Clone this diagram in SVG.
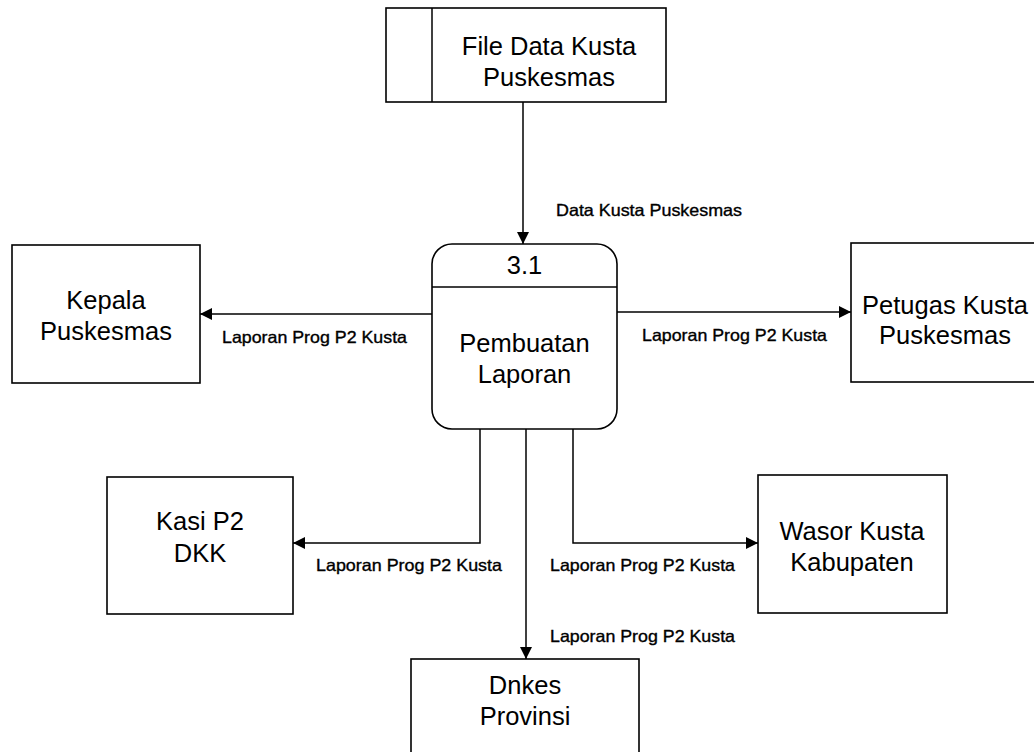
<svg xmlns="http://www.w3.org/2000/svg" width="1034" height="752" viewBox="0 0 1034 752">
  <style>
    .box { fill: #ffffff; stroke: #000000; stroke-width: 1.6; }
    .line { fill: none; stroke: #000000; stroke-width: 1.5; }
    .node { font-family: "Liberation Sans", Arial, sans-serif; font-size: 25.5px; fill: #000000; text-anchor: middle; }
    .flow { font-family: "Liberation Sans", Arial, sans-serif; font-size: 16.5px; fill: #000000; stroke: #000000; stroke-width: 0.35; }
  </style>
  <defs>
    <marker id="arrow" viewBox="0 0 12 12" refX="12" refY="6" markerWidth="12" markerHeight="12" markerUnits="userSpaceOnUse" orient="auto">
      <path d="M0,0 L12,6 L0,12 Z" fill="#000000"/>
    </marker>
  </defs>

  <rect width="1034" height="752" fill="#ffffff"/>

  <!-- data flows -->
  <g id="connectors">
    <line class="line" x1="523" y1="102" x2="523" y2="244" marker-end="url(#arrow)"/>
    <line class="line" x1="432" y1="314" x2="200" y2="314" marker-end="url(#arrow)"/>
    <line class="line" x1="617" y1="312" x2="851" y2="312" marker-end="url(#arrow)"/>
    <polyline class="line" points="480,429 480,543 293,543" marker-end="url(#arrow)"/>
    <polyline class="line" points="573,429 573,543 758,543" marker-end="url(#arrow)"/>
    <line class="line" x1="526" y1="429" x2="526" y2="659" marker-end="url(#arrow)"/>

    <text class="flow" x="556" y="216" textLength="186" lengthAdjust="spacingAndGlyphs">Data Kusta Puskesmas</text>
    <text class="flow" x="222" y="343" textLength="185" lengthAdjust="spacingAndGlyphs">Laporan Prog P2 Kusta</text>
    <text class="flow" x="642" y="341" textLength="185" lengthAdjust="spacingAndGlyphs">Laporan Prog P2 Kusta</text>
    <text class="flow" x="316" y="571" textLength="186" lengthAdjust="spacingAndGlyphs">Laporan Prog P2 Kusta</text>
    <text class="flow" x="550" y="571" textLength="185" lengthAdjust="spacingAndGlyphs">Laporan Prog P2 Kusta</text>
    <text class="flow" x="550" y="642" textLength="185" lengthAdjust="spacingAndGlyphs">Laporan Prog P2 Kusta</text>
  </g>

  <!-- data store -->
  <g id="store-file-data-kusta">
    <rect class="box" x="386" y="8" width="280" height="94"/>
    <line class="line" x1="432" y1="8" x2="432" y2="102"/>
    <text class="node" x="549" y="55">File Data Kusta</text>
    <text class="node" x="549" y="86">Puskesmas</text>
  </g>

  <!-- process -->
  <g id="process-3-1">
    <rect class="box" x="432" y="244" width="185" height="185" rx="20" ry="20"/>
    <line class="line" x1="432" y1="287" x2="617" y2="287"/>
    <text class="node" x="524.5" y="274">3.1</text>
    <text class="node" x="524.5" y="352">Pembuatan</text>
    <text class="node" x="524.5" y="383">Laporan</text>
  </g>

  <!-- external entities -->
  <g id="entity-kepala-puskesmas">
    <rect class="box" x="12" y="245" width="188" height="138"/>
    <text class="node" x="106" y="309">Kepala</text>
    <text class="node" x="106" y="340">Puskesmas</text>
  </g>

  <g id="entity-petugas-kusta">
    <rect class="box" x="851" y="243" width="190" height="139"/>
    <text class="node" x="945" y="314">Petugas Kusta</text>
    <text class="node" x="945" y="344">Puskesmas</text>
  </g>

  <g id="entity-kasi-p2">
    <rect class="box" x="107" y="477" width="186" height="137"/>
    <text class="node" x="200" y="530">Kasi P2</text>
    <text class="node" x="200" y="562">DKK</text>
  </g>

  <g id="entity-wasor-kusta">
    <rect class="box" x="758" y="475" width="189" height="138"/>
    <text class="node" x="852" y="540">Wasor Kusta</text>
    <text class="node" x="852" y="571">Kabupaten</text>
  </g>

  <g id="entity-dinkes-provinsi">
    <rect class="box" x="411" y="659" width="228" height="120"/>
    <text class="node" x="525" y="694">Dnkes</text>
    <text class="node" x="525" y="725">Provinsi</text>
  </g>
</svg>
